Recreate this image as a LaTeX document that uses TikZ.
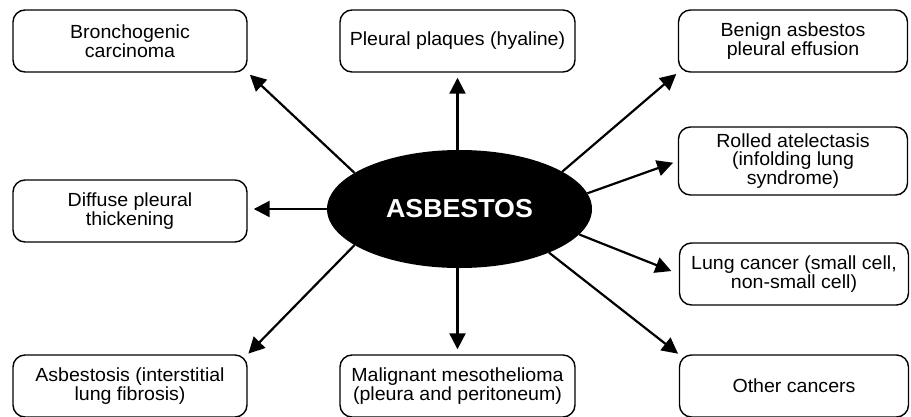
\documentclass[tikz,border=0pt]{standalone}
\usepackage{fontspec}
\setmainfont[FakeStretch=1.03]{Liberation Sans}
\usetikzlibrary{shapes.geometric,arrows.meta}
\begin{document}
\begin{tikzpicture}[x=1pt,y=-1pt,
  box/.style={draw, line width=1.4pt, rounded corners=12pt, align=center, inner sep=0pt,
    minimum height=62pt, font=\fontsize{19}{17.5}\selectfont},
  wbox/.style={box, minimum width=234pt},
  nbox/.style={box, minimum width=229pt},
  arr/.style={line width=2.2pt, -{Triangle[length=16pt,width=16pt]}}]
\useasboundingbox (0,0) rectangle (911,416);
\clip (0,0) rectangle (911,416);
% outcome boxes
\node[wbox] (bron)  at (130,41)   {Bronchogenic\\carcinoma};
\node[box, minimum width=235pt] (pleu) at (457.5,41) {Pleural plaques (hyaline)};
\node[nbox] (ben)   at (793,41)   {Benign asbestos\\pleural effusion};
\node[nbox, minimum height=68pt] (roll) at (793,161) {Rolled atelectasis\\(infolding lung\\syndrome)};
\node[wbox] (diff)  at (130,211)  {Diffuse pleural\\thickening};
\node[nbox] (lung)  at (794,274)  {Lung cancer (small cell,\\non-small cell)};
\node[wbox] (asb)   at (130,386)  {Asbestosis (interstitial\\lung fibrosis)};
\node[box, minimum width=235pt] (mal) at (457.5,386) {Malignant mesothelioma\\(pleura and peritoneum)};
\node[nbox] (other) at (794,386)  {Other cancers};
% central ellipse
\node[ellipse, fill=black, inner sep=0pt, minimum width=265pt, minimum height=118pt,
  text=white, font=\fontsize{26}{26}\bfseries\selectfont] (ell) at (459.5,209) {ASBESTOS};
% connectors
\draw[arr, shorten >=3pt] (ell.161) -- (bron.south east);
\draw[arr, shorten >=5pt] (ell.north -| pleu.south) -- (pleu.south);
\draw[arr, shorten >=2pt] (ell.20) -- (ben.south west);
\draw[arr, shorten >=5pt] (ell.7) -- (roll.west);
\draw[arr, shorten >=6pt] (ell.west) -- (ell.west -| diff.east);
\draw[arr, shorten >=8pt] (ell.348) -- (lung.west);
\draw[arr, shorten >=1pt] (ell.334) -- (other.north west);
\draw[arr, shorten >=5pt] (ell.south -| mal.north) -- (mal.north);
\draw[arr, shorten >=1pt] (ell.199) -- (asb.north east);
\end{tikzpicture}
\end{document}
